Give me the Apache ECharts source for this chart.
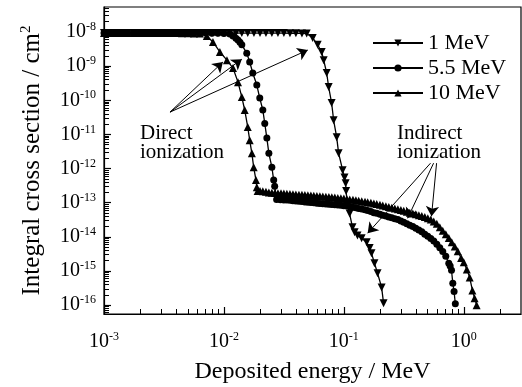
<!DOCTYPE html>
<html>
<head>
<meta charset="utf-8">
<title>Integral cross section</title>
<script src="https://cdn.jsdelivr.net/npm/echarts@6/dist/echarts.min.js"></script>
<style>
  html, body { margin: 0; padding: 0; background: #fff; }
  #main { width: 522px; height: 387px; }
</style>
</head>
<body>
<div id="main"></div>
<script>
// deposited energy (MeV) and integral cross section (cm^2)
var energy1 = [0.001, 0.00112, 0.00126, 0.00141, 0.00158, 0.00178, 0.002, 0.00224, 0.00251, 0.00282,
  0.00316, 0.00355, 0.00398, 0.00447, 0.00501, 0.00562, 0.00631, 0.00708, 0.00794, 0.00891,
  0.01, 0.0112, 0.0126, 0.0141, 0.0158, 0.0178, 0.02, 0.0224, 0.0251, 0.0282,
  0.0316, 0.0355, 0.0398, 0.0447, 0.049, 0.055, 0.0605, 0.0653, 0.0679, 0.0719,
  0.0747, 0.0791, 0.0822, 0.0871, 0.0905, 0.0977, 0.1012, 0.1035, 0.1045, 0.1065,
  0.1117, 0.118, 0.123, 0.130, 0.1407, 0.155, 0.164, 0.170, 0.180, 0.191, 0.2065, 0.2144];
var sigma1 = [9.3e-9, 9.3e-9, 9.3e-9, 9.3e-9, 9.3e-9, 9.3e-9, 9.3e-9, 9.3e-9, 9.3e-9, 9.3e-9,
  9.3e-9, 9.3e-9, 9.3e-9, 9.3e-9, 9.3e-9, 9.3e-9, 9.3e-9, 9.3e-9, 9.3e-9, 9.3e-9,
  9.3e-9, 9.3e-9, 9.3e-9, 9.3e-9, 9.3e-9, 9.3e-9, 9.3e-9, 9.3e-9, 9.3e-9, 9.3e-9,
  9.3e-9, 9.2e-9, 9.2e-9, 9.1e-9, 9.0e-9, 6.7e-9, 4.2e-9, 2.6e-9, 1.5e-9, 6.3e-10,
  2.45e-10, 8.3e-11, 2.6e-11, 8.3e-12, 2.8e-12, 9e-13, 5.5e-13, 3.7e-13, 2.2e-13, 9e-14,
  4.8e-14, 1.9e-14, 1.36e-14, 1.1e-14, 9.1e-15, 6.9e-15, 4.7e-15, 3.3e-15, 1.7e-15, 8.6e-16, 3.3e-16, 1.13e-16];

var energy55 = [0.001, 0.00112, 0.00126, 0.00141, 0.00158, 0.00178, 0.002, 0.00224, 0.00251, 0.00282,
  0.00316, 0.00355, 0.00398, 0.00447, 0.00501, 0.00562, 0.00631, 0.00708, 0.00794, 0.00891,
  0.01, 0.0112, 0.0119, 0.0126, 0.0131, 0.0136, 0.0141, 0.0155, 0.0164, 0.0174,
  0.0188, 0.0199, 0.0211, 0.0219, 0.0228, 0.0237, 0.0251, 0.026, 0.0265, 0.0275,
  0.0296, 0.0316, 0.0335, 0.0355, 0.0376, 0.0398, 0.0422, 0.0447, 0.0473, 0.0501,
  0.0531, 0.0562, 0.0596, 0.0631, 0.0668, 0.0708, 0.075, 0.0794, 0.0841, 0.0891,
  0.0944, 0.1, 0.106, 0.112, 0.119, 0.126, 0.133, 0.141, 0.15, 0.158,
  0.168, 0.178, 0.188, 0.2, 0.211, 0.224, 0.237, 0.251, 0.266, 0.282,
  0.299, 0.316, 0.335, 0.355, 0.376, 0.398, 0.422, 0.447, 0.473, 0.501,
  0.531, 0.562, 0.596, 0.631, 0.668, 0.708, 0.75, 0.77, 0.79, 0.81, 0.83, 0.85];
var sigma55 = [9.3e-9, 9.3e-9, 9.3e-9, 9.3e-9, 9.3e-9, 9.3e-9, 9.3e-9, 9.3e-9, 9.3e-9, 9.3e-9,
  9.3e-9, 9.3e-9, 9.3e-9, 9.3e-9, 9.3e-9, 9.3e-9, 9.3e-9, 9.3e-9, 9.2e-9, 9.2e-9,
  9.1e-9, 8.8e-9, 7.6e-9, 6.6e-9, 5.8e-9, 5.0e-9, 4.2e-9, 2.4e-9, 1.32e-9, 6.3e-10,
  2.8e-10, 1.16e-10, 5.2e-11, 2.1e-11, 7.8e-12, 2.8e-12, 1.1e-12, 4.6e-13, 3.05e-13, 1.25e-13,
  1.23e-13, 1.21e-13, 1.2e-13, 1.18e-13, 1.15e-13, 1.13e-13, 1.1e-13, 1.08e-13, 1.05e-13, 1.03e-13,
  1.01e-13, 9.9e-14, 9.7e-14, 9.5e-14, 9.3e-14, 9.2e-14, 9.0e-14, 8.9e-14, 8.7e-14, 8.6e-14,
  8.4e-14, 8.2e-14, 8.0e-14, 7.7e-14, 7.4e-14, 7.1e-14, 6.8e-14, 6.5e-14, 6.2e-14, 5.9e-14,
  5.5e-14, 5.1e-14, 4.9e-14, 4.6e-14, 4.3e-14, 4.1e-14, 3.8e-14, 3.6e-14, 3.4e-14, 3.2e-14,
  2.9e-14, 2.7e-14, 2.4e-14, 2.2e-14, 2.0e-14, 1.8e-14, 1.6e-14, 1.4e-14, 1.2e-14, 1.05e-14,
  9e-15, 7.5e-15, 6.1e-15, 4.8e-15, 3.7e-15, 2.7e-15, 1.7e-15, 1.4e-15, 1.05e-15, 4.4e-16, 2.5e-16, 1.1e-16];

var energy10 = [0.001, 0.00112, 0.00126, 0.00141, 0.00158, 0.00178, 0.002, 0.00224, 0.00251, 0.00282,
  0.00316, 0.00355, 0.00398, 0.00447, 0.00501, 0.00562, 0.00631, 0.0072, 0.0081, 0.00925,
  0.0106, 0.0119, 0.0131, 0.0141, 0.0149, 0.0158, 0.0164, 0.0171, 0.0177, 0.0185,
  0.0188, 0.0191, 0.02, 0.0211, 0.0224, 0.0237, 0.0251, 0.0266, 0.0282, 0.0299,
  0.0316, 0.0335, 0.0355, 0.0376, 0.0398, 0.0422, 0.0447, 0.0473, 0.0501, 0.0531,
  0.0562, 0.0596, 0.0631, 0.0668, 0.0708, 0.075, 0.0794, 0.0841, 0.0891, 0.0944,
  0.1, 0.106, 0.112, 0.119, 0.126, 0.133, 0.141, 0.15, 0.158, 0.168,
  0.178, 0.188, 0.2, 0.211, 0.224, 0.237, 0.251, 0.266, 0.282, 0.299,
  0.316, 0.335, 0.355, 0.376, 0.398, 0.422, 0.447, 0.473, 0.501, 0.531,
  0.562, 0.596, 0.631, 0.668, 0.708, 0.75, 0.794, 0.841, 0.891, 0.95,
  1.0, 1.06, 1.12, 1.18, 1.23, 1.28];
var sigma10 = [9.3e-9, 9.3e-9, 9.3e-9, 9.3e-9, 9.3e-9, 9.3e-9, 9.3e-9, 9.3e-9, 9.3e-9, 9.3e-9,
  9.3e-9, 9.3e-9, 9.3e-9, 9.2e-9, 9.2e-9, 9.1e-9, 9.0e-9, 7.6e-9, 5.1e-9, 2.6e-9,
  1.5e-9, 8.8e-10, 3.4e-10, 1.24e-10, 5.2e-11, 1.64e-11, 6.8e-12, 2.8e-12, 1.1e-12, 4.6e-13,
  2.85e-13, 2.2e-13, 2.2e-13, 2.15e-13, 2.1e-13, 2.0e-13, 1.95e-13, 1.92e-13, 1.9e-13, 1.88e-13,
  1.85e-13, 1.82e-13, 1.8e-13, 1.78e-13, 1.75e-13, 1.72e-13, 1.7e-13, 1.68e-13, 1.66e-13, 1.63e-13,
  1.6e-13, 1.58e-13, 1.55e-13, 1.53e-13, 1.5e-13, 1.48e-13, 1.45e-13, 1.42e-13, 1.38e-13, 1.35e-13,
  1.32e-13, 1.28e-13, 1.25e-13, 1.22e-13, 1.18e-13, 1.14e-13, 1.1e-13, 1.07e-13, 1.03e-13, 9.9e-14,
  9.5e-14, 9.1e-14, 8.7e-14, 8.3e-14, 7.9e-14, 7.5e-14, 7.1e-14, 6.8e-14, 6.4e-14, 6.1e-14,
  5.8e-14, 5.4e-14, 5.1e-14, 4.8e-14, 4.6e-14, 4.3e-14, 4.1e-14, 3.8e-14, 3.5e-14, 3.2e-14,
  2.8e-14, 2.4e-14, 1.9e-14, 1.5e-14, 1.2e-14, 9.2e-15, 7e-15, 5.2e-15, 3.8e-15, 2.4e-15,
  1.8e-15, 1.1e-15, 6.5e-16, 2.7e-16, 1.6e-16, 1e-16];

var seriesNames = ['1 MeV', '5.5 MeV', '10 MeV'];

// annotation arrows, [from, to] in data units
var directArrows = [
  [[0.00355, 4.5e-11], [0.0098, 1.32e-9]],
  [[0.00355, 4.5e-11], [0.0141, 1.6e-9]],
  [[0.00355, 4.5e-11], [0.05, 2.96e-9]]
];
var indirectArrows = [
  [[0.528, 1.44e-12], [0.158, 1.28e-14]],
  [[0.56, 1.44e-12], [0.34, 3.5e-14]],
  [[0.593, 1.44e-12], [0.538, 4.0e-14]]
];

var xMin = 0.001, xMax = 3;
var yMin = 5.5e-17, yMax = 5.4e-8;

var FONT = '"Liberation Serif", "Times New Roman", serif';

// log minor ticks 2..9 per decade
var minorX = [], minorY = [];
[-3, -2, -1, 0].forEach(function (d) {
  for (var m = 2; m <= 9; m++) {
    var v = m * Math.pow(10, d);
    if (v > xMin && v < xMax) minorX.push(v);
  }
});
for (var d = -17; d <= -8; d++) {
  for (var m = 2; m <= 9; m++) {
    var v = m * Math.pow(10, d);
    if (v > yMin && v < yMax) minorY.push(v);
  }
}

function powLabel(v) {
  var e = Math.log10(v);
  var r = Math.round(e);
  if (Math.abs(e - r) > 0.01) return '';
  return '{b|10}{s|' + r + '}';
}

var labelRich = {
  b: { fontFamily: FONT, fontSize: 20, color: '#000', lineHeight: 22 },
  s: { fontFamily: FONT, fontSize: 12, color: '#000', lineHeight: 12, verticalAlign: 'top' }
};

function zip(xs, ys) {
  return xs.map(function (x, i) { return [x, ys[i]]; });
}

function curve(name, xs, ys, symbol, rotate, size) {
  return {
    name: name,
    type: 'line',
    data: zip(xs, ys),
    symbol: symbol,
    symbolRotate: rotate,
    symbolSize: size,
    showAllSymbol: true,
    itemStyle: { color: '#000' },
    lineStyle: { color: '#000', width: 1.3 },
    emphasis: { disabled: true }
  };
}

function arrowData(list) {
  return list.map(function (a) {
    return [{ coord: a[0] }, { coord: a[1] }];
  });
}

var chart = echarts.init(document.getElementById('main'), null, { renderer: 'canvas' });

chart.setOption({
  animation: false,
  backgroundColor: '#fff',
  grid: {
    left: 104, right: 1, top: 7, bottom: 73,
    show: true, borderColor: '#000', borderWidth: 1.2,
    outerBoundsMode: 'none'
  },
  legend: {
    data: seriesNames,
    orient: 'vertical',
    left: 367, top: 27,
    itemWidth: 50, itemHeight: 9, itemGap: 3,
    textStyle: { fontFamily: FONT, fontSize: 22, color: '#000' }
  },
  xAxis: [{
    type: 'log', logBase: 10, min: xMin, max: xMax,
    name: 'Deposited energy / MeV', nameLocation: 'middle', nameGap: 46,
    nameTextStyle: { fontFamily: FONT, fontSize: 24, color: '#000' },
    axisLine: { show: true, lineStyle: { color: '#000', width: 1.2 } },
    axisTick: { show: true, inside: true, length: 7, lineStyle: { color: '#000', width: 1.2 } },
    axisLabel: { formatter: powLabel, rich: labelRich, margin: 17, showMaxLabel: false },
    splitLine: { show: false }
  }, {
    type: 'log', logBase: 10, min: xMin, max: xMax, position: 'bottom',
    axisLine: { show: false },
    axisTick: { show: true, inside: true, length: 5, customValues: minorX, lineStyle: { color: '#000', width: 1 } },
    axisLabel: { show: false },
    splitLine: { show: false }
  }],
  yAxis: [{
    type: 'log', logBase: 10, min: yMin, max: yMax, splitNumber: 10,
    name: '{t|Integral cross section / cm}{s|2}', nameLocation: 'middle', nameGap: 58,
    nameTextStyle: {
      rich: {
        t: { fontFamily: FONT, fontSize: 25, color: '#000', lineHeight: 27 },
        s: { fontFamily: FONT, fontSize: 15, color: '#000', lineHeight: 14, verticalAlign: 'top' }
      }
    },
    axisLine: { show: true, lineStyle: { color: '#000', width: 1.2 } },
    axisTick: { show: true, inside: true, length: 7, lineStyle: { color: '#000', width: 1.2 } },
    axisLabel: { formatter: powLabel, rich: labelRich, margin: 8, showMinLabel: false, showMaxLabel: false },
    splitLine: { show: false }
  }, {
    type: 'log', logBase: 10, min: yMin, max: yMax, position: 'left',
    axisLine: { show: false },
    axisTick: { show: true, inside: true, length: 5, customValues: minorY, lineStyle: { color: '#000', width: 1 } },
    axisLabel: { show: false },
    splitLine: { show: false }
  }],
  series: [
    curve(seriesNames[0], energy1, sigma1, 'triangle', 180, 8),
    curve(seriesNames[1], energy55, sigma55, 'circle', 0, 7),
    curve(seriesNames[2], energy10, sigma10, 'triangle', 0, 8),
    {
      name: 'arrows',
      type: 'line',
      data: [],
      markLine: {
        silent: true,
        symbol: ['none', 'arrow'],
        symbolSize: 10,
        label: { show: false },
        lineStyle: { color: '#000', width: 1, type: 'solid' },
        data: arrowData(directArrows).concat(arrowData(indirectArrows))
      }
    }
  ],
  graphic: [
    {
      type: 'text', left: 140, top: 123,
      style: { text: 'Direct\nionization', fontFamily: FONT, fontSize: 21, lineHeight: 19, fill: '#000' }
    },
    {
      type: 'text', left: 397, top: 123,
      style: { text: 'Indirect\nionization', fontFamily: FONT, fontSize: 21, lineHeight: 19, fill: '#000' }
    }
  ]
});
</script>
</body>
</html>
